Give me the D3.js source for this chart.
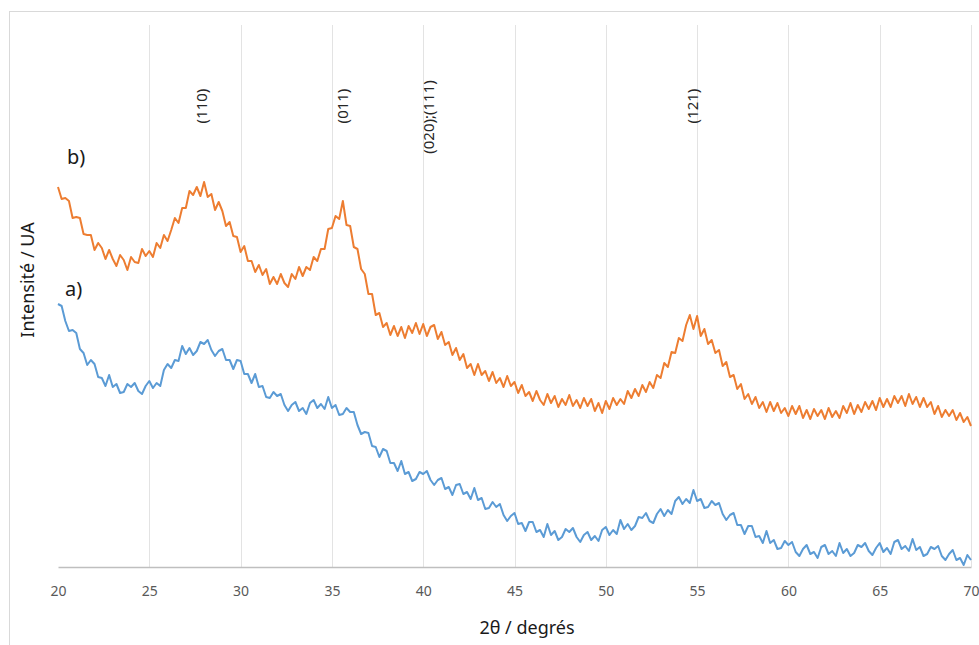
<!DOCTYPE html>
<html lang="fr">
    <head>
        <meta charset="utf-8">
        <title>DRX</title>
        <script type="text/javascript" src="https://d3js.org/d3.v7.min.js"></script>
        <style type="text/css">
            body { margin: 0; background: white; }
            svg { display: block; font-family: "Noto Sans", sans-serif; }
        </style>
    </head>
    <body>
        <script type="text/javascript">

        // 2theta from 20 to 70 every 0.2 degree
        const angleStart = 20;
        const angleStep = 0.2;

        // curve b) (orange), arbitrary intensity units
        const seriesB = [
            380, 368, 369, 366, 349,  350, 349, 333, 332, 332,  317, 324, 319, 308, 317,
            308, 301, 312, 307, 297,  310, 305, 304, 318, 311,  316, 310, 324, 319, 332,
            326, 337, 349, 344, 359,  359, 376, 372, 380, 371,  385, 370, 373, 357, 365,
            356, 341, 345, 331, 330,  315, 321, 306, 306, 295,  302, 292, 298, 283, 290,
            283, 293, 284, 280, 293,  288, 300, 291, 300, 297,  310, 306, 318, 318, 338,
            339, 351, 348, 366, 342,  341, 320, 318, 298, 293,  273, 273, 252, 254, 240,
            244, 232, 241, 231, 240,  229, 241, 234, 244, 233,  243, 231, 240, 242, 228,
            235, 222, 225, 212, 219,  207, 213, 199, 203, 192,  203, 192, 196, 186, 195,
            184, 189, 180, 191, 181,  185, 174, 182, 171, 175,  166, 176, 167, 162, 173,
            164, 171, 160, 168, 162,  172, 161, 167, 159, 169,  161, 168, 156, 164, 154,
            166, 158, 169, 162, 168,  163, 176, 169, 178, 171,  182, 175, 185, 179, 192,
            189, 204, 200, 215, 214,  229, 226, 242, 252, 238,  251, 231, 238, 223, 227,
            214, 217, 201, 205, 190,  192, 178, 183, 168, 173,  163, 170, 159, 165, 155,
            165, 156, 164, 154, 159,  151, 161, 153, 161, 149,  157, 148, 158, 151, 157,
            148, 159, 150, 156, 149,  161, 154, 164, 153, 162,  155, 165, 158, 166, 157,
            169, 160, 168, 160, 171,  164, 171, 161, 173, 163,  170, 160, 169, 160, 165,
            153, 161, 150, 157, 151,  157, 147, 154, 145, 150,  141
        ];

        // curve a) (blue)
        const seriesA = [
            263, 261, 246, 236, 237,  234, 218, 214, 202, 207,  203, 190, 189, 181, 192,
            180, 183, 174, 175, 183,  180, 184, 176, 173, 181,  186, 179, 184, 181, 197,
            203, 199, 207, 206, 221,  213, 219, 212, 216, 225,  223, 227, 217, 211, 216,
            218, 207, 207, 198, 207,  206, 193, 193, 184, 193,  180, 181, 170, 169, 175,
            171, 173, 162, 156, 162,  165, 156, 159, 153, 164,  167, 159, 163, 158, 170,
            159, 162, 152, 153, 159,  155, 155, 142, 133, 135,  134, 121, 120, 110, 118,
            116, 104, 104,  96, 106,   93,  95,  86,  88,  95,   93,  96,  87,  82,  87,
             89,  78,  80,  72,  82,   83,  73,  75,  68,  79,   67,  69,  58,  59,  65,
             60,  63,  52,  46,  51,   54,  43,  44,  36,  45,   45,  35,  37,  30,  43,
             32,  36,  27,  30,  38,   35,  39,  30,  25,  32,   35,  27,  31,  26,  37,
             40,  32,  37,  33,  47,   38,  43,  37,  41,  50,   49,  54,  46,  44,  53,
             58,  51,  57,  53,  66,   70,  63,  68,  64,  77,   66,  68,  59,  60,  66,
             62,  64,  53,  47,  52,   54,  42,  42,  33,  41,   41,  30,  31,  24,  36,
             24,  27,  18,  19,  26,   22,  25,  15,  11,  18,   22,  13,  15,   9,  20,
             22,  13,  16,  11,  24,   14,  18,  11,  14,  22,   20,  24,  16,  12,  19,
             24,  15,  19,  13,  25,   27,  18,  21,  16,  28,   17,  20,  11,  13,  20,
             18,  21,  11,   7,  13,   17,   7,   9,   2,  12,    7
        ];

        const xTicks = [20, 25, 30, 35, 40, 45, 50, 55, 60, 65, 70];

        // reflection labels and their 2theta
        const peakLabels = ["(110)", "(011)", "(020);(111)", "(121)"];
        const peakAngles = [27.9, 35.6, 40.3, 54.8];

        const width = 979;
        const height = 645;
        const margin = {top: 25, right: 8, bottom: 78, left: 58};

        const xScale = d3.scaleLinear()
                        .domain([20, 70])
                        .range([margin.left, width - margin.right]);

        const yScale = d3.scaleLinear()
                        .domain([0, 542])
                        .range([height - margin.bottom, margin.top]);

        const svg = d3.select("body")
                    .append("svg")
                    .attr("width", width)
                    .attr("height", height);

        // chart frame
        svg.append("rect")
            .attr("x", 9.5)
            .attr("y", 11.5)
            .attr("width", 1000)
            .attr("height", 700)
            .attr("fill", "white")
            .attr("stroke", "#d9d9d9");

        // vertical grid
        svg.append("g")
            .selectAll("line")
            .data(xTicks.slice(1))
            .enter()
            .append("line")
            .attr("x1", d => Math.round(xScale(d)) + 0.5)
            .attr("x2", d => Math.round(xScale(d)) + 0.5)
            .attr("y1", margin.top)
            .attr("y2", height - margin.bottom)
            .attr("stroke", "#e3e3e3");

        const bottomAxis = d3.axisBottom(xScale)
                            .tickValues(xTicks)
                            .tickSize(0)
                            .tickPadding(19);

        const gx = svg.append("g")
            .attr("transform", "translate(0," + (height - margin.bottom) + ")")
            .call(bottomAxis);
        gx.select(".domain").attr("stroke", "#bfbfbf").attr("stroke-width", 1.5);
        gx.selectAll("text")
            .style("font-family", "Noto Sans")
            .style("font-size", "14px")
            .attr("fill", "#595959");

        const toPoints = arr => arr.map((v, i) => [angleStart + i * angleStep, v]);

        const line = d3.line()
                    .x(d => xScale(d[0]))
                    .y(d => yScale(d[1]));

        svg.append("path")
            .datum(toPoints(seriesA))
            .attr("d", line)
            .attr("fill", "none")
            .attr("stroke", "#5b9bd5")
            .attr("stroke-width", 2)
            .attr("stroke-linejoin", "round");

        svg.append("path")
            .datum(toPoints(seriesB))
            .attr("d", line)
            .attr("fill", "none")
            .attr("stroke", "#ed7d31")
            .attr("stroke-width", 2)
            .attr("stroke-linejoin", "round");

        // reflection labels (rotated)
        svg.append("g")
            .selectAll("text")
            .data(peakLabels)
            .enter()
            .append("text")
            .attr("transform", (d, i) => "translate(" + (xScale(peakAngles[i]) + 5) + "," + (i == 2 ? 117 : 106) + ") rotate(-90)")
            .attr("text-anchor", "middle")
            .style("font-size", "15px")
            .attr("fill", "#262626")
            .text(d => d);

        svg.append("text")
            .attr("x", 67)
            .attr("y", 164)
            .style("font-size", "20px")
            .attr("fill", "#1a1a1a")
            .text("b)");

        svg.append("text")
            .attr("x", 65)
            .attr("y", 296)
            .style("font-size", "20px")
            .attr("fill", "#1a1a1a")
            .text("a)");

        // axis titles
        svg.append("text")
            .attr("x", 527)
            .attr("y", 634)
            .attr("text-anchor", "middle")
            .style("font-size", "18px")
            .attr("fill", "#1a1a1a")
            .text("2θ / degrés");

        svg.append("text")
            .attr("transform", "translate(34,280) rotate(-90)")
            .attr("text-anchor", "middle")
            .style("font-size", "18px")
            .attr("fill", "#1a1a1a")
            .text("Intensité / UA");

        </script>
    </body>
</html>
